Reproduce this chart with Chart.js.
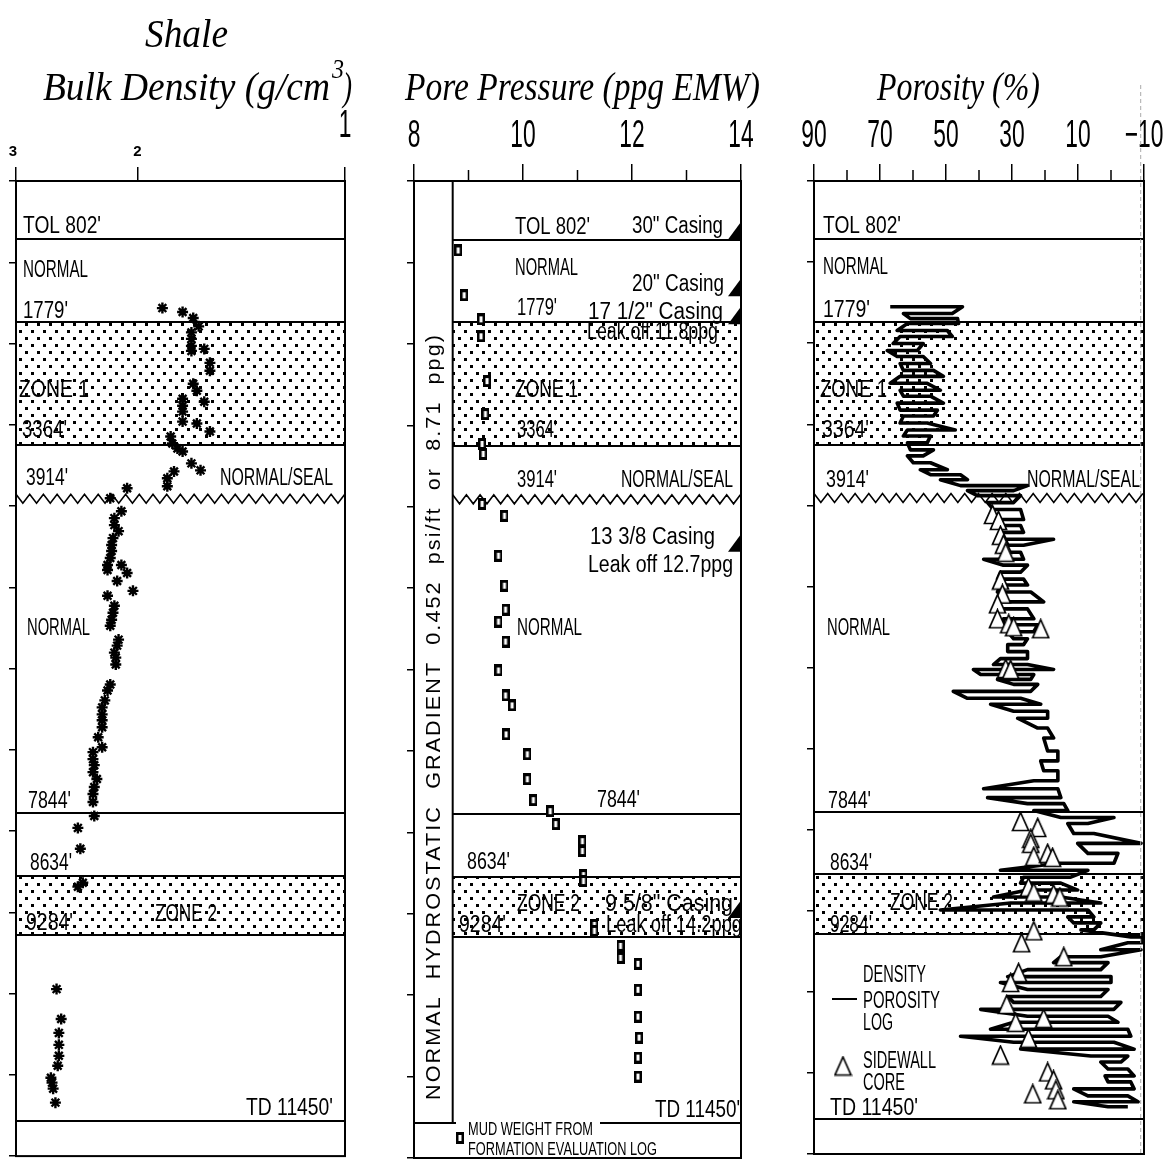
<!DOCTYPE html>
<html>
<head>
<meta charset="utf-8">
<script src="https://cdn.jsdelivr.net/npm/chart.js@4.4.0/dist/chart.umd.min.js"></script>
<style>
  body { margin: 0; background: #fff; width: 1171px; height: 1164px; position: relative; overflow: hidden; }
  canvas { position: absolute; top: 0; }
</style>
</head>
<body>
<canvas id="c1" width="385" height="1164" style="left:0px"></canvas>
<canvas id="c2" width="400" height="1164" style="left:385px"></canvas>
<canvas id="c3" width="386" height="1164" style="left:785px"></canvas>
<script>
// ---- depth axis (ft), shared by the three tracks
const depthMin = 0, depthMax = 12000, depthStep = 1000;

// zone boundaries as drawn on the log (ft)
const boundaryDepths = [719, 1735, 3255, 3910, 7777, 8549, 9284, 11564];
const zigzagDepth = 3910;
const zones = [[1735, 3255], [8549, 9284]];

// ---- track 1: shale bulk density (g/cm3) vs depth
const densityTicks = [3, 2, 1];
const bulkDensity = [1.84, 1.72, 1.66, 1.63, 1.67, 1.67, 1.67, 1.67, 1.60, 1.57, 1.57, 1.66, 1.64, 1.72, 1.72, 1.72, 1.72, 1.60, 1.64, 1.57,
  1.79, 1.78, 1.75, 1.72, 1.67, 1.62, 1.77, 1.81, 1.81, 2.07, 2.19, 2.11, 2.16, 2.16, 2.13, 2.17, 2.18, 2.18, 2.19, 2.21,
  2.21, 2.11, 2.07, 2.14, 2.03, 2.21, 2.16, 2.17, 2.18, 2.19, 2.13, 2.14, 2.16, 2.15, 2.15, 2.19, 2.21, 2.23, 2.25, 2.25,
  2.25, 2.25, 2.28, 2.25, 2.32, 2.32, 2.31, 2.32, 2.29, 2.31, 2.32, 2.32, 2.31, 2.44, 2.42, 2.40, 2.44, 2.62, 2.58, 2.60,
  2.60, 2.60, 2.61, 2.67, 2.66, 2.65, 2.63];
const densityDepth = [1564, 1613, 1686, 1789, 1863, 1943, 2029, 2091, 2066, 2238, 2336, 2495, 2581, 2679, 2765, 2838, 2961, 2716, 2985, 3083,
  3145, 3230, 3292, 3328, 3475, 3561, 3574, 3659, 3757, 3782, 3904, 4064, 4149, 4235, 4309, 4395, 4480, 4554, 4640, 4726,
  4787, 4726, 4824, 4922, 5044, 5105, 5228, 5314, 5399, 5473, 5644, 5718, 5804, 5865, 5951, 6196, 6270, 6392, 6478, 6564,
  6637, 6723, 6846, 6968, 7029, 7115, 7189, 7275, 7360, 7458, 7544, 7642, 7814, 7961, 8218, 8635, 8684, 9945, 10313, 10484,
  10631, 10766, 10888, 11035, 11096, 11170, 11342];

// ---- track 2: pore pressure (ppg EMW) vs depth
const ppgTicks = [8, 10, 12, 14];
const ppgMinor = [9, 11, 13];
const porePressure = [8.81, 8.92, 9.23, 9.23, 9.34, 9.31, 9.25, 9.27, 9.25, 9.66, 9.55, 9.66, 9.68, 9.55, 9.68, 9.55, 9.68, 9.80, 9.69,
  10.08, 10.08, 10.19, 10.50, 10.60, 11.09, 11.09, 11.11, 11.11, 11.31, 11.31, 11.79, 11.79, 12.11, 12.11, 12.11, 12.13, 12.11, 12.11];
const pressureDepth = [853, 1404, 1699, 1907, 2458, 2863, 3230, 3353, 3966, 4113, 4603, 4971, 5265, 5412, 5657, 6012, 6319, 6441, 6797,
  7042, 7348, 7605, 7740, 7899, 8108, 8230, 8525, 8598, 9137, 9211, 9395, 9542, 9615, 9934, 10264, 10522, 10767, 11000];
const hydrostaticPpg = 8.71;
const casingDepths = [719, 1417, 1760, 4554, 9053];

// ---- track 3: porosity (%) - density log (left/right swing per depth row) and sidewall cores
const porosityTicks = [90, 70, 50, 30, 10, -10];
const porosityMinor = [80, 60, 40, 20, 0];
const logDepth = [1551, 1635, 1697, 1758, 1844, 1918, 2004, 2091, 2164, 2250, 2336, 2409, 2495, 2581, 2654, 2740, 2826, 2899, 2985, 3071,
  3145, 3230, 3316, 3390, 3475, 3561, 3622, 3684, 3757, 3818, 3880, 3966, 4052, 4174, 4248, 4334, 4419, 4493, 4579, 4665,
  4738, 4824, 4910, 4983, 5069, 5191, 5277, 5399, 5473, 5559, 5645, 5718, 5804, 5890, 5963, 6025, 6086, 6147, 6208, 6294,
  6380, 6453, 6539, 6625, 6747, 6870, 7029, 7152, 7274, 7397, 7495, 7605, 7679, 7765, 7850, 7924, 8047, 8169, 8292, 8414,
  8500, 8586, 8659, 8745, 8831, 8904, 8990, 9076, 9150, 9236, 9322, 9395, 9481, 9567, 9640, 9726, 9812, 9885, 9971, 10057,
  10130, 10216, 10302, 10376, 10461, 10547, 10621, 10706, 10792, 10866, 10952, 11037, 11111, 11197, 11283, 11356, 11417];
const logLeft = [66.9, 62.9, 60.8, 61.7, 64.8, 63.9, 66.0, 67.8, 64.8, 63.9, 62.9, 63.9, 66.9, 63.9, 62.9, 64.8, 63.9, 62.9, 63.9, 61.7,
  62.9, 61.7, 60.8, 61.7, 59.9, 57.8, 54.7, 51.7, 45.6, 43.5, 40.5, 37.4, 35.6, 36.5, 34.4, 33.5, 32.6, 32.6, 33.5, 38.6,
  32.6, 33.5, 34.4, 33.5, 34.4, 33.5, 34.4, 32.6, 32.6, 31.3, 29.5, 31.3, 31.3, 33.5, 35.6, 41.7, 39.5, 34.4, 29.5, 47.8,
  43.5, 36.5, 29.5, 28.3, 22.2, 20.4, 19.2, 21.3, 20.4, 23.4, 38.6, 37.4, 25.3, 23.4, 15.2, 13.1, 11.3, 10.1, 7.0, 16.1,
  33.5, 26.5, 27.4, 25.3, 35.6, 30.4, 51.7, 13.1, 11.3, 9.1, -6.0, -5.1, 3.1, 15.2, 17.4, 25.3, 31.3, 33.5, 25.3, 31.3,
  29.5, 39.5, 25.3, 29.5, 36.5, 45.6, 29.5, 27.4, 6.1, 3.1, 0.9, 1.8, 0.9, 11.3, 7.0, 11.3, 0.9];
const logRight = [45.0, 48.1, 46.5, 46.2, 49.6, 48.1, 56.9, 58.7, 56.9, 54.7, 53.8, 50.8, 55.7, 51.7, 54.7, 50.8, 52.6, 53.8, 55.7, 47.2,
  54.7, 55.7, 53.8, 56.9, 54.7, 49.6, 45.6, 43.5, 25.3, 29.5, 27.4, 29.5, 27.4, 26.5, 27.4, 26.5, 17.4, 26.5, 27.4, 26.5,
  25.3, 27.4, 26.5, 25.3, 24.3, 20.4, 25.3, 23.4, 22.2, 23.4, 25.3, 26.5, 25.3, 25.3, 25.3, 17.4, 23.4, 24.3, 22.2, 24.3,
  27.4, 21.3, 19.2, 19.2, 19.2, 17.4, 16.1, 16.1, 16.1, 16.1, 16.1, 15.2, 14.3, 13.1, -0.9, 7.0, 5.2, -9.1, -2.1, -0.9,
  7.0, 12.2, 15.2, 10.1, 15.2, 3.1, 7.0, 5.2, 3.1, 5.2, -9.5, -9.5, -9.1, 3.1, 0.9, 3.1, 0.0, 0.0, 0.9, 3.1,
  -3.0, -0.9, 0.9, -2.1, -5.1, -6.0, -0.9, -7.0, -5.1, -3.0, -5.1, -7.0, -6.0, -7.0, -5.1, -8.2, -5.1];
const corePorosity = [35.9, 34.1, 33.5, 32.6, 31.9, 33.5, 32.9, 34.4, 34.4, 31.0, 29.5, 21.3, 31.9, 30.4, 27.4, 22.2, 24.3, 24.3, 23.4, 19.2,
  17.7, 25.0, 23.4, 17.4, 15.5, 23.4, 27.1, 14.3, 28.0, 30.4, 31.6, 28.9, 20.4, 25.0, 33.5, 19.2, 17.4, 16.7, 23.7, 16.1];
const coreDepth = [4113, 4186, 4370, 4480, 4579, 4922, 5093, 5216, 5399, 5461, 5498, 5522, 6012, 6025, 7900, 7973, 8108, 8169, 8329, 8292,
  8341, 8708, 8770, 8794, 8831, 9248, 9395, 9567, 9763, 9885, 10155, 10376, 10327, 10572, 10780, 10988, 11086, 11209, 11258, 11331];

// ---- annotations (page pixels): [text, x, baseline, align, width]
const labels1 = [
  ["TOL 802'", 23, 233, 'left', 78], ["NORMAL", 23, 277, 'left', 65], ["1779'", 23, 318, 'left', 45],
  ["ZONE 1", 19, 397, 'left', 70], ["3364'", 22, 437, 'left', 45], ["3914'", 26, 485, 'left', 42],
  ["NORMAL/SEAL", 333, 485, 'right', 113], ["NORMAL", 27, 635, 'left', 63], ["7844'", 28, 808, 'left', 43],
  ["8634'", 30, 870, 'left', 42], ["ZONE 2", 155, 921, 'left', 62], ["9284'", 26, 930, 'left', 47],
  ["TD 11450'", 333, 1115, 'right', 87]
];
const labels2 = [
  ["TOL 802'", 515, 234, 'left', 75], ['30" Casing', 632, 233, 'left', 91], ["NORMAL", 515, 275, 'left', 63],
  ['20" Casing', 632, 291, 'left', 92], ["1779'", 517, 315, 'left', 40], ['17 1/2" Casing', 588, 319, 'left', 135],
  ["Leak off 11.8ppg", 587, 339, 'left', 131], ["ZONE 1", 515, 397, 'left', 63], ["3364'", 517, 437, 'left', 40],
  ["3914'", 517, 487, 'left', 40], ["NORMAL/SEAL", 733, 487, 'right', 112], ["13 3/8 Casing", 590, 544, 'left', 125],
  ["Leak off 12.7ppg", 588, 572, 'left', 145], ["NORMAL", 517, 635, 'left', 65], ["7844'", 597, 807, 'left', 43],
  ["8634'", 467, 869, 'left', 43], ["ZONE 2", 517, 911, 'left', 63], ['9 5/8" Casing', 605, 911, 'left', 128],
  ["9284'", 459, 932, 'left', 47], ["Leak off 14.2ppg", 606, 932, 'left', 136], ["TD 11450'", 740, 1117, 'right', 85]
];
const labels3 = [
  ["TOL 802'", 823, 233, 'left', 78], ["NORMAL", 823, 274, 'left', 65], ["1779'", 823, 317, 'left', 47],
  ["ZONE 1", 820, 397, 'left', 67], ["3364'", 822, 437, 'left', 47], ["3914'", 826, 487, 'left', 43],
  ["NORMAL/SEAL", 1140, 487, 'right', 113], ["NORMAL", 827, 635, 'left', 63], ["7844'", 828, 808, 'left', 43],
  ["8634'", 830, 870, 'left', 42], ["ZONE 2", 890, 910, 'left', 63], ["9284'", 830, 932, 'left', 42],
  ["DENSITY", 863, 982, 'left', 63], ["POROSITY", 863, 1008, 'left', 77], ["LOG", 863, 1030, 'left', 30],
  ["SIDEWALL", 863, 1068, 'left', 73], ["CORE", 863, 1090, 'left', 42], ["TD 11450'", 830, 1115, 'left', 88]
];

const SANS = '"Liberation Sans", Arial, sans-serif';
const SERIF = '"Liberation Serif", "DejaVu Serif", serif';

// text squeezed to the width it takes in the figure
function txt(ctx, s, x, y, size, align, w) {
  ctx.save();
  ctx.font = size + 'px ' + SANS;
  ctx.fillStyle = '#000';
  ctx.textAlign = align || 'left';
  ctx.textBaseline = 'alphabetic';
  const sx = w ? w / ctx.measureText(s).width : 0.6;
  ctx.translate(x, y);
  ctx.scale(sx, 1);
  ctx.fillText(s, 0, 0);
  ctx.restore();
}

function title(ctx, s, x, y, w, size) {
  ctx.save();
  ctx.font = 'italic ' + size + 'px ' + SERIF;
  ctx.fillStyle = '#000';
  const m = ctx.measureText(s).width;
  ctx.translate(x, y);
  ctx.scale(w / m, 1);
  ctx.fillText(s, 0, 0);
  ctx.restore();
}

function dotPattern(ctx) {
  const t = document.createElement('canvas');
  t.width = 12; t.height = 14;
  const g = t.getContext('2d');
  g.fillStyle = '#000';
  g.fillRect(1, 1, 3, 3);
  g.fillRect(7, 8, 3, 3);
  return ctx.createPattern(t, 'repeat');
}

function boxMarker() {
  const c = document.createElement('canvas');
  c.width = 8; c.height = 12;
  const g = c.getContext('2d');
  g.fillStyle = '#000';
  g.fillRect(0, 0, 8, 12);
  g.fillStyle = '#fff';
  g.fillRect(2.5, 3, 3, 6);
  return c;
}

function triMarker() {
  const c = document.createElement('canvas');
  c.width = 19; c.height = 21;
  const g = c.getContext('2d');
  g.beginPath();
  g.moveTo(9.5, 1.5); g.lineTo(17.5, 19.5); g.lineTo(1.5, 19.5); g.closePath();
  g.fillStyle = '#fff'; g.fill();
  g.strokeStyle = '#000'; g.lineWidth = 1.7; g.stroke();
  return c;
}
const squareImg = boxMarker();
const triImg = triMarker();

function yAxis() {
  return {
    type: 'linear', position: 'left', reverse: true, min: depthMin, max: depthMax,
    ticks: { display: false, stepSize: depthStep },
    grid: { drawOnChartArea: false, drawTicks: true, tickLength: 7, color: '#000', lineWidth: 1.5 },
    border: { display: true, color: '#000', width: 2 },
    afterFit: s => { s.width = 8; }
  };
}

function xAxis(type, min, max, ticks, reverse, tickLen) {
  return {
    type, position: 'top', min, max, reverse,
    afterBuildTicks: s => { s.ticks = ticks.map(v => ({ value: v })); },
    ticks: { display: false },
    grid: { drawOnChartArea: false, drawTicks: true, tickLength: tickLen, color: '#000', lineWidth: 1.5 },
    border: { display: true, color: '#000', width: 2 },
    afterFit: s => { s.height = 20; }
  };
}

function panelPlugin(p) {
  return {
    id: 'panel',
    beforeDatasetsDraw(chart) {
      const { ctx, chartArea: a, scales: { x, y } } = chart;
      const left = p.innerFrom == null ? a.left : x.getPixelForValue(p.innerFrom);
      ctx.save();
      ctx.fillStyle = dotPattern(ctx);
      zones.forEach(z => {
        const t = y.getPixelForValue(z[0]), b = y.getPixelForValue(z[1]);
        ctx.fillRect(left, t, a.right - left, b - t);
      });
      ctx.strokeStyle = '#000';
      ctx.lineWidth = 2;
      boundaryDepths.forEach((d, i) => {
        if (d === zigzagDepth) return;
        const py = Math.round(y.getPixelForValue(d));
        const l = i === boundaryDepths.length - 1 ? a.left : left;
        ctx.beginPath(); ctx.moveTo(l, py); ctx.lineTo(a.right, py); ctx.stroke();
      });
      // unconformity zigzag
      const zy = y.getPixelForValue(zigzagDepth);
      ctx.lineWidth = 1.6;
      ctx.beginPath();
      for (let i = 0; left + i * 6.85 <= a.right + 0.5; i++) {
        ctx.lineTo(left + i * 6.85, zy + (i % 2 ? 4.5 : -4.5));
      }
      ctx.stroke();
      if (p.innerFrom != null) {
        ctx.lineWidth = 2;
        const tdY = Math.round(y.getPixelForValue(boundaryDepths[boundaryDepths.length - 1]));
        ctx.beginPath(); ctx.moveTo(left, a.top); ctx.lineTo(left, tdY); ctx.stroke();
      }
      ctx.lineWidth = 2;
      ctx.strokeRect(a.left, a.top, a.right - a.left, a.bottom - a.top);
      ctx.restore();
    },
    afterDatasetsDraw(chart) {
      const { ctx } = chart;
      p.labels.forEach(l => txt(ctx, l[0], l[1] - p.offset, l[2], 23, l[3], l[4]));
      if (p.extra) p.extra(chart, ctx);
    }
  };
}

function minorTicks(ctx, chart, values) {
  const { chartArea: a, scales: { x } } = chart;
  ctx.save();
  ctx.strokeStyle = '#000'; ctx.lineWidth = 1.5;
  values.forEach(v => {
    const px = x.getPixelForValue(v);
    ctx.beginPath(); ctx.moveTo(px, a.top - 11); ctx.lineTo(px, a.top); ctx.stroke();
  });
  ctx.restore();
}

function tickLabels(ctx, chart, values, fmt, y) {
  const x = chart.scales.x;
  values.forEach(v => txt(ctx, fmt(v), x.getPixelForValue(v), y, 38, 'center'));
}

const base = {
  responsive: false, animation: false, devicePixelRatio: 1,
  plugins: { legend: { display: false }, tooltip: { enabled: false } }
};

// ---- track 1
new Chart(document.getElementById('c1'), {
  type: 'scatter',
  data: {
    datasets: [{
      data: bulkDensity.map((v, i) => ({ x: v, y: densityDepth[i] })),
      pointStyle: 'star', pointRadius: 5.5, borderColor: '#000', borderWidth: 2.4
    }]
  },
  options: Object.assign({}, base, {
    layout: { padding: { top: 161, bottom: 4, left: 8, right: 40 } },
    scales: { x: xAxis('logarithmic', 1, 3, densityTicks, true, 14), y: yAxis() }
  }),
  plugins: [panelPlugin({
    offset: 0, innerFrom: null, labels: labels1,
    extra(chart, ctx) {
      const x = chart.scales.x;
      ctx.save();
      ctx.font = 'bold 15px ' + SANS;
      ctx.textAlign = 'center';
      ctx.fillText('3', x.getPixelForValue(3) - 3, 156);
      ctx.fillText('2', x.getPixelForValue(2), 156);
      ctx.restore();
      txt(ctx, '1', x.getPixelForValue(1), 137, 38, 'center');
      title(ctx, 'Shale', 145, 47, 83, 40);
      title(ctx, 'Bulk Density (g/cm', 43, 100, 287, 40);
      title(ctx, '3', 332, 78, 12, 28);
      title(ctx, ')', 343, 100, 9, 40);
    }
  })]
});

// ---- track 2
new Chart(document.getElementById('c2'), {
  type: 'scatter',
  data: {
    datasets: [{
      data: porePressure.map((v, i) => ({ x: v, y: pressureDepth[i] })),
      pointStyle: squareImg, pointRadius: 5
    }]
  },
  options: Object.assign({}, base, {
    layout: { padding: { top: 161, bottom: 4, left: 21, right: 44 } },
    scales: { x: xAxis('linear', 8, 14, ppgTicks, false, 17), y: yAxis() }
  }),
  plugins: [panelPlugin({
    offset: 385, innerFrom: hydrostaticPpg, labels: labels2,
    extra(chart, ctx) {
      const { chartArea: a, scales: { x, y } } = chart;
      minorTicks(ctx, chart, ppgMinor);
      tickLabels(ctx, chart, ppgTicks, v => String(v), 147);
      title(ctx, 'Pore Pressure (ppg EMW)', 405 - 385, 100, 355, 40);
      // casing shoes
      ctx.save();
      ctx.fillStyle = '#000';
      casingDepths.forEach(d => {
        const yb = y.getPixelForValue(d);
        ctx.beginPath();
        ctx.moveTo(a.right + 1, yb); ctx.lineTo(a.right + 1, yb - 19); ctx.lineTo(a.right - 13, yb);
        ctx.closePath(); ctx.fill();
      });
      // hydrostatic gradient caption in the left strip
      const xs = (a.left + x.getPixelForValue(hydrostaticPpg)) / 2 + 1;
      ctx.translate(xs, 1100);
      ctx.rotate(-Math.PI / 2);
      ctx.font = '21px ' + SANS;
      ctx.letterSpacing = '2px';
      ctx.textBaseline = 'middle';
      const s = 'NORMAL  HYDROSTATIC  GRADIENT  0.452  psi/ft  or  8.71  ppg)';
      const w = ctx.measureText(s).width;
      ctx.scale(767 / w, 1);
      ctx.fillText(s, 0, 0);
      ctx.restore();
      // mud weight legend
      ctx.save();
      ctx.fillStyle = '#fff';
      ctx.fillRect(456 - 385, 1118, 600 - 456, 16);
      ctx.drawImage(squareImg, 456 - 385, 1132);
      ctx.restore();
      txt(ctx, 'MUD WEIGHT FROM', 468 - 385, 1135, 19, 'left', 125);
      txt(ctx, 'FORMATION EVALUATION LOG', 468 - 385, 1155, 19, 'left', 189);
    }
  })]
});

// ---- track 3
const logPoints = [];
logDepth.forEach((d, i) => {
  const l = { x: logLeft[i], y: d }, r = { x: logRight[i], y: d };
  if (i % 2) logPoints.push(r, l); else logPoints.push(l, r);
});

new Chart(document.getElementById('c3'), {
  type: 'scatter',
  data: {
    datasets: [
      {
        data: corePorosity.map((v, i) => ({ x: v, y: coreDepth[i] })),
        pointStyle: triImg, pointRadius: 9
      },
      {
        data: logPoints, showLine: true, pointRadius: 0, borderColor: '#000', borderWidth: 3.6, borderJoinStyle: 'round'
      }
    ]
  },
  options: Object.assign({}, base, {
    layout: { padding: { top: 161, bottom: 4, left: 21, right: 27 } },
    scales: { x: xAxis('linear', -10, 90, porosityTicks, true, 17), y: yAxis() }
  }),
  plugins: [panelPlugin({
    offset: 785, innerFrom: null, labels: labels3,
    extra(chart, ctx) {
      const { chartArea: a, scales: { x } } = chart;
      minorTicks(ctx, chart, porosityMinor);
      tickLabels(ctx, chart, porosityTicks, v => (v < 0 ? '\u2212' + (-v) : String(v)), 147);
      title(ctx, 'Porosity (%)', 877 - 785, 100, 163, 40);
      ctx.save();
      // faint dashed trace near the right edge
      ctx.strokeStyle = '#aaa'; ctx.lineWidth = 1; ctx.setLineDash([4, 3]);
      const xd = x.getPixelForValue(-9);
      ctx.beginPath(); ctx.moveTo(xd, 85); ctx.lineTo(xd, a.bottom); ctx.stroke();
      ctx.setLineDash([]);
      // legend symbols
      ctx.strokeStyle = '#000'; ctx.lineWidth = 2;
      ctx.beginPath(); ctx.moveTo(832 - 785, 999); ctx.lineTo(857 - 785, 999); ctx.stroke();
      ctx.drawImage(triImg, 843 - 785 - 9.5, 1066 - 10.5);
      ctx.restore();
    }
  })]
});
</script>
</body>
</html>
